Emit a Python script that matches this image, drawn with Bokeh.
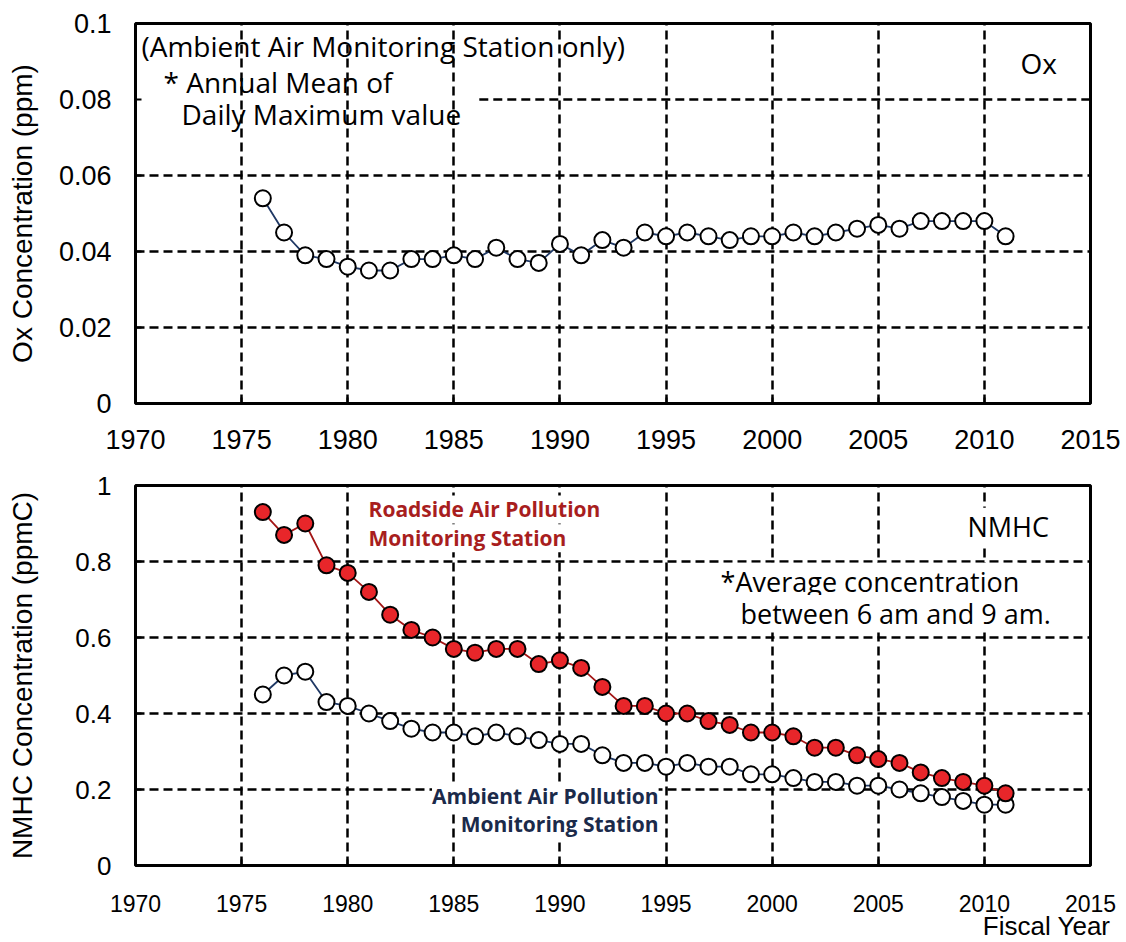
from bokeh.plotting import figure
from bokeh.layouts import column
from bokeh.models import (FixedTicker, CustomJSTickFormatter, Label, ColumnDataSource, Title)
from bokeh.embed import file_html
from bokeh.resources import INLINE

# ---------------- data ----------------
years = list(range(1976, 2012))
ox = [0.054, 0.045, 0.039, 0.038, 0.036, 0.035, 0.035, 0.038, 0.038, 0.039,
      0.038, 0.041, 0.038, 0.037, 0.042, 0.039, 0.043, 0.041, 0.045, 0.044,
      0.045, 0.044, 0.043, 0.044, 0.044, 0.045, 0.044, 0.045, 0.046, 0.047,
      0.046, 0.048, 0.048, 0.048, 0.048, 0.044]
nmhc_roadside = [0.93, 0.87, 0.90, 0.79, 0.77, 0.72, 0.66, 0.62, 0.60, 0.57,
                 0.56, 0.57, 0.57, 0.53, 0.54, 0.52, 0.47, 0.42, 0.42, 0.40,
                 0.40, 0.38, 0.37, 0.35, 0.35, 0.34, 0.31, 0.31, 0.29, 0.28,
                 0.27, 0.245, 0.23, 0.22, 0.21, 0.19]
nmhc_ambient = [0.45, 0.50, 0.51, 0.43, 0.42, 0.40, 0.38, 0.36, 0.35, 0.35,
                0.34, 0.35, 0.34, 0.33, 0.32, 0.32, 0.29, 0.27, 0.27, 0.26,
                0.27, 0.26, 0.26, 0.24, 0.24, 0.23, 0.22, 0.22, 0.21, 0.21,
                0.20, 0.19, 0.18, 0.17, 0.16, 0.16]
x_ticks = [1970, 1975, 1980, 1985, 1990, 1995, 2000, 2005, 2010, 2015]
ox_ticks = [0, 0.02, 0.04, 0.06, 0.08, 0.1]
nmhc_ticks = [0, 0.2, 0.4, 0.6, 0.8, 1.0]

NAVY = "#1f3864"
DARKRED = "#a31515"
RED = "#e8262a"
AX_FONT = "Liberation Sans"
TXT_FONT = "Open Sans"
GRID_DASH = "9 5"


def style(p, yticks, ydigits, xfs, yfs):
    p.outline_line_color = "black"
    p.outline_line_width = 3
    p.xaxis.ticker = FixedTicker(ticks=x_ticks)
    p.yaxis.ticker = FixedTicker(ticks=yticks)
    p.yaxis.formatter = CustomJSTickFormatter(
        code="return tick.toFixed(%d).replace(/0+$/,'').replace(/\\.$/,'');" % ydigits)
    for ax in (p.xaxis, p.yaxis):
        ax.axis_line_color = None
        ax.major_tick_out = 0
        ax.major_tick_in = 6
        ax.major_tick_line_width = 2
        ax.minor_tick_line_color = None
        ax.major_label_text_font = AX_FONT
        ax.major_label_text_color = "black"
        ax.axis_label_text_font = AX_FONT
        ax.axis_label_text_font_style = "normal"
        ax.axis_label_text_color = "black"
    p.xaxis.major_label_text_font_size = xfs
    p.yaxis.major_label_text_font_size = yfs
    p.yaxis.major_label_standoff = 24
    p.yaxis.axis_label_text_font_size = "28px"
    for g in (p.xgrid, p.ygrid):
        g.grid_line_color = "black"
        g.grid_line_width = 2.5
        g.grid_line_dash = GRID_DASH
    p.background_fill_color = "white"


def new_fig(height, yr, top, bottom):
    return figure(width=1126, height=height, x_range=(1970, 2015), y_range=yr,
                  output_backend="svg", toolbar_location=None,
                  min_border_left=135, min_border_right=36,
                  min_border_top=top, min_border_bottom=bottom)


# ---------------- top: Ox ----------------
p1 = new_fig(470, (0, 0.1), 23, 67)
style(p1, ox_ticks, 2, "27px", "27px")
p1.xaxis.major_label_standoff = 26
p1.yaxis.axis_label = "Ox Concentration (ppm)"
p1.yaxis.axis_label_standoff = 18
# horizontal grid: the 0.08 line is hidden behind the note text on the left
p1.ygrid.ticker = FixedTicker(ticks=[t for t in ox_ticks if t != 0.08])
p1.segment(x0=[1986.2], y0=[0.08], x1=[2015], y1=[0.08], line_color="black",
           line_width=2.5, line_dash=GRID_DASH, level="underlay")

src1 = ColumnDataSource(dict(x=years, y=ox))
p1.line("x", "y", source=src1, line_color=NAVY, line_width=1.8)
p1.scatter("x", "y", source=src1, size=16, fill_color="white", line_color="black", line_width=2)

for txt, x, y in [("(Ambient Air Monitoring Station only)", 1970.28, 0.0942),
                  ("* Annual Mean of", 1971.32, 0.0845),
                  ("Daily Maximum value", 1972.17, 0.0763)]:
    p1.add_layout(Label(x=x, y=y, text=txt, text_font=TXT_FONT, text_font_size="28px",
                        text_baseline="middle", text_color="black"))
p1.add_layout(Label(x=2011.7, y=0.0895, text="Ox", text_font=TXT_FONT, text_font_size="28px",
                    text_baseline="middle", text_color="black"))

# ---------------- bottom: NMHC ----------------
p2 = new_fig(472, (0, 1), 15, 77)
style(p2, nmhc_ticks, 1, "23px", "26px")
p2.xaxis.major_label_standoff = 29
p2.yaxis.axis_label = "NMHC Concentration (ppmC)"
p2.yaxis.axis_label_standoff = 34

src2 = ColumnDataSource(dict(x=years, road=nmhc_roadside, amb=nmhc_ambient))
p2.line("x", "amb", source=src2, line_color=NAVY, line_width=1.8)
p2.scatter("x", "amb", source=src2, size=16, fill_color="white", line_color="black", line_width=2)
p2.line("x", "road", source=src2, line_color=DARKRED, line_width=1.8)
p2.scatter("x", "road", source=src2, size=16, fill_color=RED, line_color="black", line_width=2)

for txt, x, y in [("Roadside Air Pollution", 1980.98, 0.937),
                  ("Monitoring Station", 1980.98, 0.861)]:
    p2.add_layout(Label(x=x, y=y, text=txt, text_font=TXT_FONT, text_font_size="21px",
                        text_font_style="bold", text_color="#a81e1e", text_baseline="middle",
                        background_fill_color="white"))
for txt, x, y in [("Ambient Air Pollution", 1994.65, 0.182),
                  ("Monitoring Station", 1994.65, 0.108)]:
    p2.add_layout(Label(x=x, y=y, text=txt, text_font=TXT_FONT, text_font_size="21px",
                        text_font_style="bold", text_color="#1b2a4a", text_baseline="middle",
                        text_align="right", background_fill_color="white"))
p2.add_layout(Label(x=2009.2, y=0.893, text="NMHC", text_font=TXT_FONT, text_font_size="27px",
                    text_baseline="middle", text_color="black", background_fill_color="white"))
p2.add_layout(Label(x=1997.57, y=0.748, text="*Average concentration", text_font=TXT_FONT,
                    text_font_size="27px", text_baseline="middle", text_color="black",
                    background_fill_color="white"))
p2.add_layout(Label(x=1998.51, y=0.663, text="between 6 am and 9 am.", text_font=TXT_FONT,
                    text_font_size="27px", text_baseline="middle", text_color="black",
                    background_fill_color="white"))
p2.add_layout(Title(text="Fiscal Year", align="right", offset=-20, standoff=-8,
                    text_font=AX_FONT, text_font_size="26px", text_font_style="normal",
                    text_color="black", vertical_align="top"), "below")

layout = column(p1, p2, spacing=0)
open("out.html", "w").write(file_html(layout, INLINE))
